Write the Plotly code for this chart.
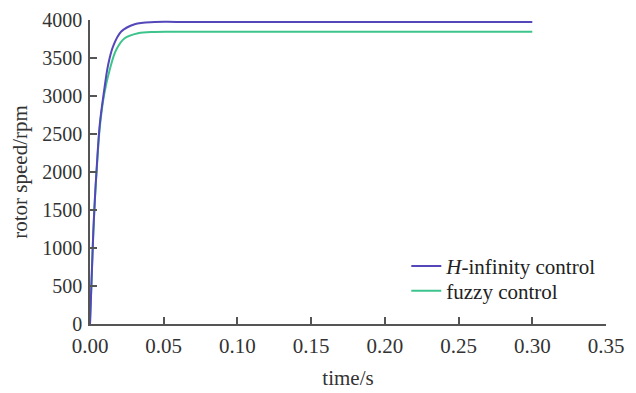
import plotly.graph_objects as go

t_hinf = [0, 0.0007, 0.0014, 0.0022, 0.0034, 0.0045, 0.0066, 0.0095, 0.0122,
          0.0156, 0.0212, 0.0303, 0.0439, 0.06, 0.30]
v_hinf = [0, 380, 760, 1190, 1680, 2040, 2620, 3060, 3400,
          3650, 3848, 3945, 3973, 3975, 3975]

t_fuzzy = [0, 0.0007, 0.0014, 0.0022, 0.0034, 0.0045, 0.0066, 0.0095, 0.0134,
           0.0178, 0.0235, 0.0326, 0.0439, 0.06, 0.30]
v_fuzzy = [0, 375, 750, 1175, 1660, 2010, 2580, 3010, 3349,
           3609, 3760, 3826, 3843, 3845, 3845]

x_ticks = [0, 0.05, 0.10, 0.15, 0.20, 0.25, 0.30, 0.35]
x_tick_labels = ["0.00", "0.05", "0.10", "0.15", "0.20", "0.25", "0.30", "0.35"]
y_ticks = [0, 500, 1000, 1500, 2000, 2500, 3000, 3500, 4000]

font_family = "Liberation Serif, Times New Roman, serif"

fig = go.Figure()
fig.add_trace(go.Scatter(x=t_fuzzy, y=v_fuzzy, mode="lines", name="fuzzy control",
                         line=dict(color="#3DC48C", width=2), line_shape="spline",
                         legend="legend2"))
fig.add_trace(go.Scatter(x=t_hinf, y=v_hinf, mode="lines", name="<i>H</i>-infinity control",
                         line=dict(color="#5347BA", width=2), line_shape="spline",
                         legend="legend"))

leg_common = dict(xanchor="left", yanchor="middle", bgcolor="rgba(0,0,0,0)",
                  font=dict(size=21, color="#222222"), itemwidth=30)

fig.update_layout(
    width=636, height=393,
    margin=dict(l=82, r=38, t=12, b=77),
    paper_bgcolor="white", plot_bgcolor="white",
    font=dict(family=font_family, size=21, color="#333333"),
    showlegend=True,
    legend=dict(x=0.613, y=0.19, **leg_common),
    legend2=dict(x=0.613, y=0.108, **leg_common),
    xaxis=dict(range=[0, 0.35], tickvals=x_ticks, ticktext=x_tick_labels,
               ticks="inside", ticklen=7, tickwidth=1.5, tickcolor="#555555",
               showline=True, linecolor="#555555", linewidth=1.5,
               showgrid=False, zeroline=False, automargin=False,
               ticklabelstandoff=2, ticklabeloverflow="allow",
               tickfont=dict(size=21),
               title=dict(text="time/s", standoff=13, font=dict(size=21))),
    yaxis=dict(range=[0, 4000], tickvals=y_ticks,
               ticks="inside", ticklen=7, tickwidth=1.5, tickcolor="#555555",
               showline=True, linecolor="#555555", linewidth=1.5,
               showgrid=False, zeroline=False, automargin=False,
               ticklabelstandoff=2, ticklabeloverflow="allow",
               tickfont=dict(size=20),
               title=dict(text="rotor speed/rpm", standoff=11, font=dict(size=21))),
)

fig.write_html("out.html")
